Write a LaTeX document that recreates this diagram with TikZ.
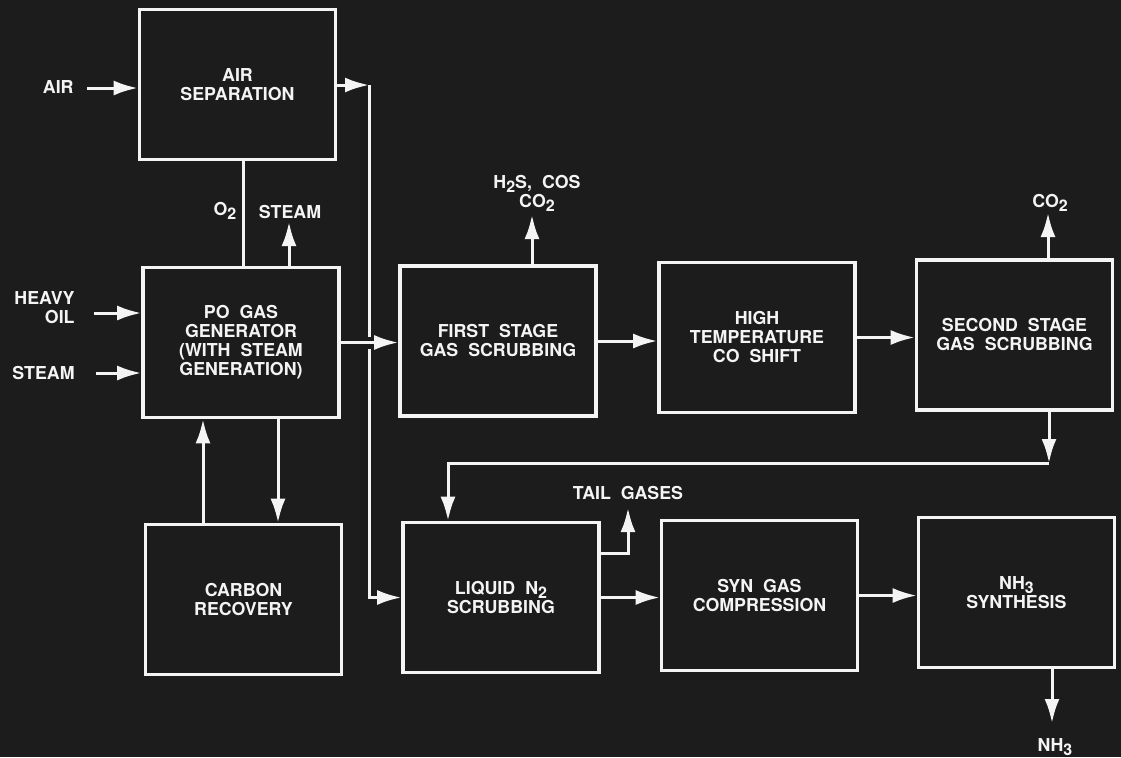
\documentclass[tikz,border=0pt]{standalone}
\usepackage{fontspec}
\setmainfont{TeX Gyre Heros}
\usetikzlibrary{arrows.meta}
\definecolor{board}{HTML}{1C1C1C}
\definecolor{ink}{HTML}{F4F4F4}
\newcommand\lowsub[1]{\raisebox{-2pt}{\fontsize{8}{8}\selectfont#1}}
\newcommand\flowfont{\fontsize{8.9}{9.5}\selectfont\bfseries\spaceskip=5pt\relax}
\begin{document}
\begin{tikzpicture}[x=0.5pt, y=-0.5pt,
  unit/.style={rectangle, draw=ink, line width=1.8pt, minimum width=98pt,
    minimum height=75pt, inner sep=2pt, align=center, text=ink, font=\flowfont},
  lbl/.style={inner sep=0pt, align=center, text=ink, font=\flowfont},
  flow/.style={draw=ink, line width=1.5pt},
  arr/.style={flow, -{Latex[length=12pt, width=7.5pt]}},
  over/.style={preaction={draw=board, line width=6pt, -, shorten <=11pt, shorten >=11pt}}]
\useasboundingbox (0,0) rectangle (1121,757);
\fill[board] (0,0) rectangle (1121,757);
\node[unit] (airsep) at (237.5,84.5) {AIR\\SEPARATION};
\node[unit] (pogen) at (241,342.5) {PO GAS\\GENERATOR\\(WITH STEAM\\GENERATION)};
\node[unit] (carbon) at (243.5,599.5) {CARBON\\RECOVERY};
\node[unit] (scrub1) at (498,341) {FIRST STAGE\\GAS SCRUBBING};
\node[unit] (coshift) at (757,337.5) {HIGH\\TEMPERATURE\\CO SHIFT};
\node[unit] (scrub2) at (1014.5,335) {SECOND STAGE\\GAS SCRUBBING};
\node[unit] (liqn) at (501,597.5) {LIQUID N\lowsub{2}\\SCRUBBING};
\node[unit] (syngas) at (759.5,595.5) {SYN GAS\\COMPRESSION};
\node[unit] (nhsyn) at (1016.5,592.5) {NH\lowsub{3}\\SYNTHESIS};
\node[lbl, anchor=east] (air) at (74,87) {AIR};
\node[lbl, anchor=east, align=right] (oil) at (75,308) {HEAVY\\OIL};
\node[lbl, anchor=east] (steamin) at (75,373) {STEAM};
\node[lbl] (otwo) at (225,211) {O\lowsub{2}};
\node[lbl] (steamout) at (290,212) {STEAM};
\node[lbl] (sulf) at (537,193) {H\lowsub{2}S, COS\\CO\lowsub{2}};
\node[lbl] (cotwo) at (1050,203) {CO\lowsub{2}};
\node[lbl] (tail) at (628,493) {TAIL GASES};
\node[lbl] (nhout) at (1055,747) {NH\lowsub{3}};
\coordinate (airsrc) at (87,88);
\coordinate (oilsrc) at (94,313);
\coordinate (steamsrc) at (96,373);
\coordinate (oxline) at (243,200);
\coordinate (steamtip) at (289,222);
\coordinate (topbend) at (369,85);
\coordinate (cbup) at (203,470);
\coordinate (cbdn) at (278,470);
\coordinate (sulftip) at (532,215);
\coordinate (cotip) at (1048,213);
\coordinate (recycle) at (1049,463);
\coordinate (recdrop) at (448,463);
\coordinate (tailexit) at (599,553);
\coordinate (tailtip) at (628,508);
\coordinate (nhtip) at (1052,723);
\draw[arr] (airsrc) -- (airsrc -| airsep.west);
\draw[arr] (oilsrc) -- (oilsrc -| pogen.west);
\draw[arr] (steamsrc) -- (steamsrc -| pogen.west);
\draw[flow] (oxline |- airsep.south) -- (oxline |- pogen.north);
\draw[arr] (steamtip |- pogen.north) -- (steamtip);
\draw[arr] (topbend -| airsep.east) -- (topbend);
\draw[arr] (topbend) |- (liqn.west);
\draw[arr, over] (pogen.east) -- (pogen.east -| scrub1.west);
\draw[arr] (cbup |- carbon.north) -- (cbup |- pogen.south);
\draw[arr] (cbdn |- pogen.south) -- (cbdn |- carbon.north);
\draw[arr] (scrub1.east) -- (scrub1.east -| coshift.west);
\draw[arr] (sulftip |- scrub1.north) -- (sulftip);
\draw[arr] (coshift.east) -- (coshift.east -| scrub2.west);
\draw[arr] (cotip |- scrub2.north) -- (cotip);
\draw[arr] (recycle |- scrub2.south) -- (recycle);
\draw[arr] (recycle) -- (recdrop) -- (recdrop |- liqn.north);
\draw[arr] (tailexit -| liqn.east) -| (tailtip);
\draw[arr] (liqn.east) -- (liqn.east -| syngas.west);
\draw[arr] (syngas.east) -- (syngas.east -| nhsyn.west);
\draw[arr] (nhtip |- nhsyn.south) -- (nhtip);
\end{tikzpicture}
\end{document}
